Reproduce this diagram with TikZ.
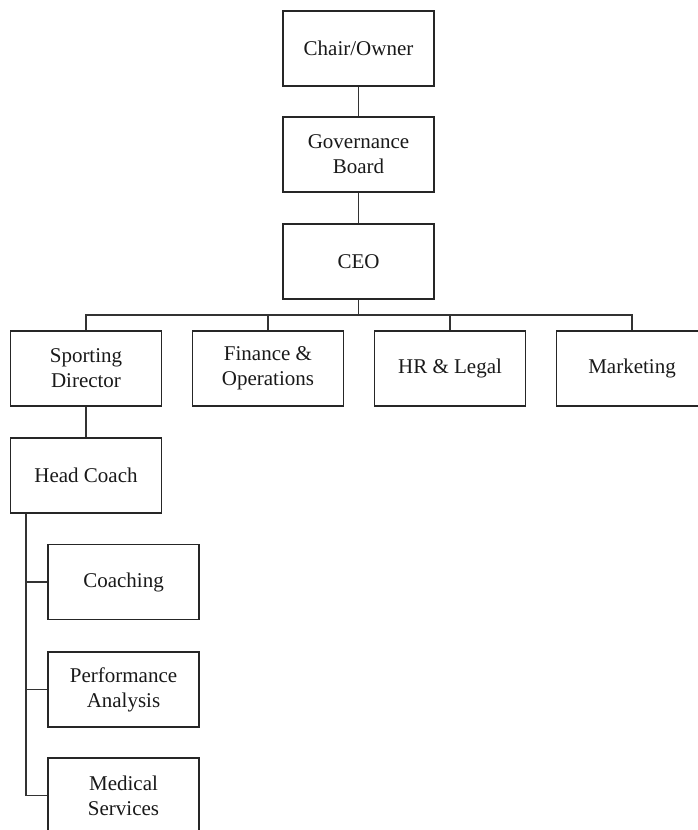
\documentclass[tikz,border=0pt]{standalone}
\usepackage{fontspec}
\setmainfont{Liberation Serif}
\begin{document}
\begin{tikzpicture}[x=1pt,y=-1pt,
  orgbox/.style={draw=black!85, line width=1.1pt, minimum width=151pt, minimum height=75pt,
    inner sep=2pt, align=center, font=\fontsize{21}{25}\selectfont, text=black!90},
  link/.style={draw=black!80, line width=1.1pt}]
\useasboundingbox (0,0) rectangle (698,830);
\clip (0,0) rectangle (698,830);
\node[orgbox] (chair) at (358.5,48.5) {Chair/Owner};
\node[orgbox] (gov) at (358.5,154.5) {Governance\\Board};
\node[orgbox] (ceo) at (358.5,261.5) {CEO};
\node[orgbox] (sd) at (86,368.5) {Sporting\\Director};
\node[orgbox] (fin) at (268,368.5) {Finance \&\\Operations};
\node[orgbox] (hr) at (450,368.5) {HR \& Legal};
\node[orgbox] (mkt) at (632,368.5) {Marketing};
\node[orgbox] (hc) at (86,475.5) {Head Coach};
\node[orgbox] (coach) at (123.5,582) {Coaching};
\node[orgbox] (perf) at (123.5,689.5) {Performance\\Analysis};
\node[orgbox] (med) at (123.5,795.5) {Medical\\Services};
\coordinate (bus) at (0,315);
\coordinate (spine) at (26,0);
\draw[link] (chair) -- (gov);
\draw[link] (gov) -- (ceo);
\draw[link] (ceo.south) -- (ceo.south |- bus);
\draw[link] (sd.north) |- (mkt.north |- bus) -- (mkt.north);
\draw[link] (fin.north) -- (fin.north |- bus);
\draw[link] (hr.north) -- (hr.north |- bus);
\draw[link] (sd) -- (hc);
\draw[link] (hc.south -| spine) -- (med.west -| spine);
\draw[link] (coach.west) -- (coach.west -| spine);
\draw[link] (perf.west) -- (perf.west -| spine);
\draw[link] (med.west) -- (med.west -| spine);
\end{tikzpicture}
\end{document}
